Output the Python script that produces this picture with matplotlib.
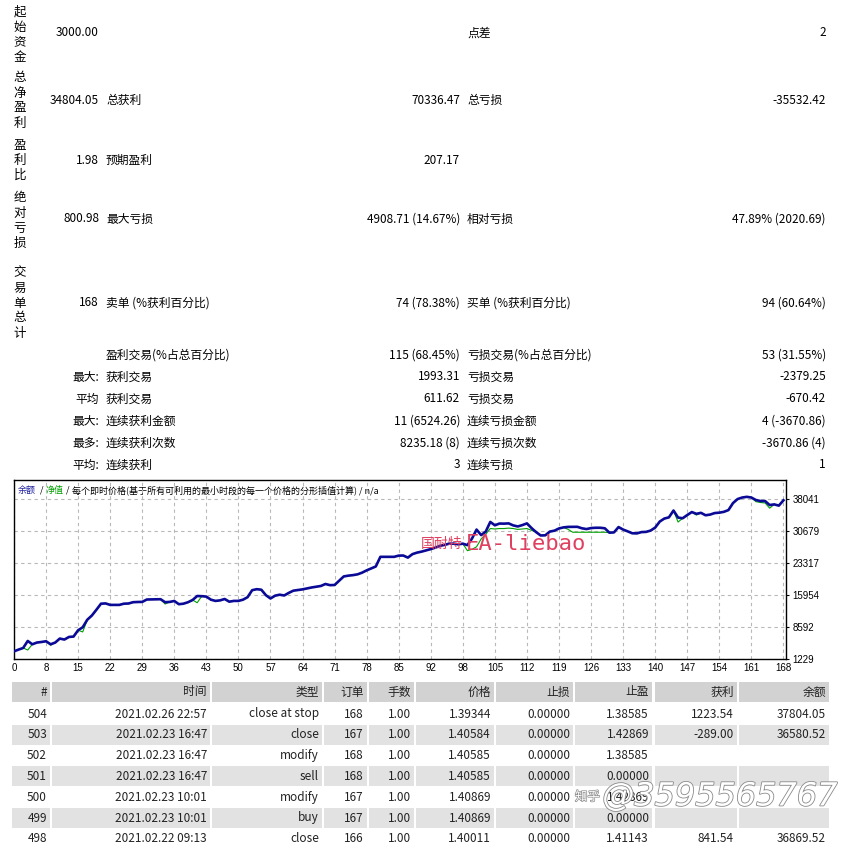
import matplotlib
matplotlib.use('Agg')
import matplotlib.pyplot as plt
from matplotlib.patches import Rectangle
import matplotlib.patheffects as pe

plt.rcParams['font.family'] = ['Noto Sans CJK SC', 'DejaVu Sans']

# ---- summary block ----
side_labels = ['起始资金', '总净盈利', '盈利比', '绝对亏损', '交易单总计']
side_values = ['3000.00', '34804.05', '1.98', '800.98', '168']
summary_rows = [
    ('', '', '', '点差', '2'),
    ('', '总获利', '70336.47', '总亏损', '-35532.42'),
    ('', '预期盈利', '207.17', '', ''),
    ('', '最大亏损', '4908.71 (14.67%)', '相对亏损', '47.89% (2020.69)'),
    ('', '卖单 (%获利百分比)', '74 (78.38%)', '买单 (%获利百分比)', '94 (60.64%)'),
    ('', '盈利交易(%占总百分比)', '115 (68.45%)', '亏损交易(%占总百分比)', '53 (31.55%)'),
    ('最大:', '获利交易', '1993.31', '亏损交易', '-2379.25'),
    ('平均', '获利交易', '611.62', '亏损交易', '-670.42'),
    ('最大:', '连续获利金额', '11 (6524.26)', '连续亏损金额', '4 (-3670.86)'),
    ('最多:', '连续获利次数', '8235.18 (8)', '连续亏损次数', '-3670.86 (4)'),
    ('平均:', '连续获利', '3', '连续亏损', '1'),
]

# ---- balance / equity curve (per trade) ----
balance = [3000, 3400, 3770, 5390, 4620, 5020, 5150, 5320, 4620, 5020,
           5940, 5710, 6310, 6400, 7860, 8540, 10280, 11250, 12590, 13980,
           14040, 13700, 13700, 13700, 13980, 14020, 14320, 14370, 14390, 14940,
           14970, 15010, 15010, 14320, 14390, 14600, 13860, 13980, 14320, 14830,
           15750, 15710, 15610, 14900, 14620, 14740, 15060, 14440, 14620, 14620,
           14900, 15480, 17090, 17320, 17200, 15940, 15180, 15820, 16050, 15870,
           16470, 16980, 17140, 17280, 17510, 17720, 17880, 18060, 18520, 18250,
           18290, 19290, 20260, 20440, 20560, 20740, 21130, 21660, 22100, 22560,
           24780, 24780, 24780, 24780, 25060, 25080, 24600, 25400, 25750, 25980,
           26280, 26560, 26910, 27300, 27530, 27810, 27830, 27670, 27810, 27480,
           28980, 31060, 29790, 30600, 32820, 32050, 32450, 32430, 32490, 32030,
           31780, 32100, 32490, 31410, 30480, 29700, 29740, 30600, 30810, 31320,
           31570, 31680, 31700, 31700, 31360, 31180, 31410, 31480, 31480, 31360,
           30350, 30410, 31640, 31060, 30650, 30210, 30180, 30480, 30530, 30830,
           31520, 32910, 33600, 33880, 35450, 33830, 33670, 34410, 35100, 34690,
           34920, 34360, 34520, 34870, 34960, 35150, 35560, 37180, 38100, 38450,
           38610, 38450, 37870, 37640, 37640, 36720, 36870, 36580, 37800]
equity = [3000, 3400, 3770, 3300, 4620, 5020, 5150, 5320, 4400, 5020,
          5940, 5710, 6310, 6400, 7860, 7460, 10280, 11250, 12590, 13980,
          14040, 13700, 13700, 13700, 13980, 14020, 14320, 14370, 14390, 14940,
          14970, 15010, 15010, 13900, 14390, 14600, 13860, 13980, 14320, 14830,
          14200, 15710, 15610, 14900, 14620, 14740, 15060, 14440, 14620, 14620,
          14900, 15480, 17090, 17320, 17200, 15940, 15180, 15820, 16050, 15870,
          16470, 16980, 17140, 17280, 17510, 17720, 17880, 18060, 18520, 18250,
          18290, 19290, 20260, 20440, 20560, 20740, 21130, 21660, 22100, 22560,
          24780, 24780, 24780, 24780, 25060, 25080, 24600, 25400, 25750, 25980,
          26280, 26560, 26910, 27300, 27530, 27810, 27830, 27670, 27810, 26200,
          26500, 27100, 28900, 30000, 31300, 31200, 31300, 31300, 31400, 31300,
          31100, 31200, 31300, 30900, 30480, 29700, 29740, 30600, 30810, 31320,
          31570, 31100, 30450, 30450, 30450, 30450, 30450, 30450, 30450, 30450,
          30350, 30410, 31640, 31060, 30650, 30210, 30180, 30480, 30530, 30830,
          31520, 32910, 33600, 33880, 35450, 32800, 33670, 34410, 35100, 34400,
          34920, 34360, 34520, 34870, 34960, 35150, 35560, 37180, 38100, 38450,
          38610, 38450, 37500, 37300, 37200, 36000, 36870, 36580, 37800]
x_ticks = list(range(0, 169, 7))
x_labels = ['0', '8', '15', '22', '29', '36', '43', '50', '57', '64', '71', '78', '85',
            '92', '98', '105', '112', '119', '126', '133', '140', '147', '154', '161', '168']
y_ticks = [1229, 8592, 15954, 23317, 30679, 38041]

# ---- orders table ----
columns = ['#', '时间', '类型', '订单', '手数', '价格', '止损', '止盈', '获利', '余额']
table_rows = [
    ['504', '2021.02.26 22:57', 'close at stop', '168', '1.00', '1.39344', '0.00000', '1.38585', '1223.54', '37804.05'],
    ['503', '2021.02.23 16:47', 'close', '167', '1.00', '1.40584', '0.00000', '1.42869', '-289.00', '36580.52'],
    ['502', '2021.02.23 16:47', 'modify', '168', '1.00', '1.40585', '0.00000', '1.38585', '', ''],
    ['501', '2021.02.23 16:47', 'sell', '168', '1.00', '1.40585', '0.00000', '0.00000', '', ''],
    ['500', '2021.02.23 10:01', 'modify', '167', '1.00', '1.40869', '0.00000', '1.42869', '', ''],
    ['499', '2021.02.23 10:01', 'buy', '167', '1.00', '1.40869', '0.00000', '0.00000', '', ''],
    ['498', '2021.02.22 09:13', 'close', '166', '1.00', '1.40011', '0.00000', '1.41143', '841.54', '36869.52'],
]

W = H = 848
fig = plt.figure(figsize=(W / 100, H / 100), dpi=100)
bg = fig.add_axes([0, 0, 1, 1])
bg.set_xlim(0, W)
bg.set_ylim(H, 0)
bg.axis('off')

fs = 8.5
# side vertical captions and their values
for lab, val, y0, yv in zip(side_labels, side_values, [12, 78, 145, 198, 273], [33, 100, 160, 219, 303]):
    for i, ch in enumerate(lab):
        bg.text(20, y0 + i * 15, ch, ha='center', va='center', fontsize=9)
    bg.text(99, yv, val, ha='right', va='center', fontsize=fs)

row_y = [33, 100, 160, 219, 303, 355, 377, 399, 421, 443, 465]
for (pre, l1, v1, l2, v2), y in zip(summary_rows, row_y):
    bg.text(99, y, pre, ha='right', va='center', fontsize=fs)
    bg.text(106, y, l1, ha='left', va='center', fontsize=fs)
    bg.text(460, y, v1, ha='right', va='center', fontsize=fs)
    bg.text(467, y, l2, ha='left', va='center', fontsize=fs)
    bg.text(826, y, v2, ha='right', va='center', fontsize=fs)

# table
col_edges = [(12, 50), (52, 210), (212, 322), (324, 367), (369, 414),
             (416, 494), (496, 573), (575, 652), (655, 737), (739, 829)]
hy = 692
for (a, b), name in zip(col_edges, columns):
    bg.add_patch(Rectangle((a, hy - 10), b - a, 20, color='#d2d2d2', lw=0))
    bg.text(b - 3, hy, name, ha='right', va='center', fontsize=fs, color='#222222')
for i, row in enumerate(table_rows):
    y = 714 + i * 20.8
    for (a, b), cell in zip(col_edges, row):
        if i % 2 == 1:
            bg.add_patch(Rectangle((a, y - 10), b - a, 20, color='#e2e2e2', lw=0))
        bg.text(b - 3, y, cell, ha='right', va='center', fontsize=fs, color='#222222')

# watermark at bottom right (overlaps the table, as in the screenshot)
wm = bg.text(838, 797, '@3595565767', ha='right', va='center', fontsize=23,
             style='italic', family='DejaVu Sans', color='white', zorder=5)
wm.set_path_effects([pe.withStroke(linewidth=1.2, foreground='#8a8a8a')])
wm2 = bg.text(575, 797, '知乎', ha='left', va='center', fontsize=9, color='white', zorder=5)
wm2.set_path_effects([pe.withStroke(linewidth=1.0, foreground='#8a8a8a')])

# chart
ax = fig.add_axes([14 / W, 1 - 659 / H, 771.7 / W, 179 / H])
xs = list(range(len(balance)))
ax.plot(xs, equity, color='#00a000', lw=0.8, zorder=3)
ax.plot(xs, balance, color='#0a0a96', lw=1.9, zorder=4)
ax.set_xlim(0, 168.5)
ax.set_ylim(1229, 42490)
ax.set_xticks(x_ticks)
ax.set_xticklabels(x_labels)
ax.set_yticks(y_ticks)
ax.set_yticklabels([str(v) for v in y_ticks])
ax.yaxis.tick_right()
ax.tick_params(axis='x', length=0, pad=3, labelsize=7)
ax.tick_params(axis='y', length=2, pad=3, labelsize=7)
for lab in ax.get_xticklabels() + ax.get_yticklabels():
    lab.set_family('Liberation Sans')
ax.grid(True, ls=(0, (3, 3)), color='#b8b8b8', lw=0.8)
for s in ax.spines.values():
    s.set_linewidth(1.0)

# legend line inside chart
ty = 490
bg.text(18, ty, '余额', ha='left', va='center', fontsize=6.5, color='#2020a0')
bg.text(40, ty, '/', ha='left', va='center', fontsize=6.5)
bg.text(46, ty, '净值', ha='left', va='center', fontsize=6.5, color='#00a000')
bg.text(66, ty, '/', ha='left', va='center', fontsize=6.5)
bg.text(72, ty, '每个即时价格(基于所有可利用的最小时段的每一个价格的分形插值计算) / n/a',
        ha='left', va='center', fontsize=6.5)

# red watermark inside chart
ax.text(0.527, 0.64, '国耐特', transform=ax.transAxes, ha='left', va='center',
        fontsize=10, color='#e04060', zorder=6)
ax.text(0.585, 0.64, 'EA-liebao', transform=ax.transAxes, ha='left', va='center',
        fontsize=16, family='DejaVu Sans Mono', color='#e04060', zorder=6)

bg.set_zorder(0)
ax.set_zorder(1)
ax.patch.set_alpha(0)
fig.savefig('out.png', dpi=100)
